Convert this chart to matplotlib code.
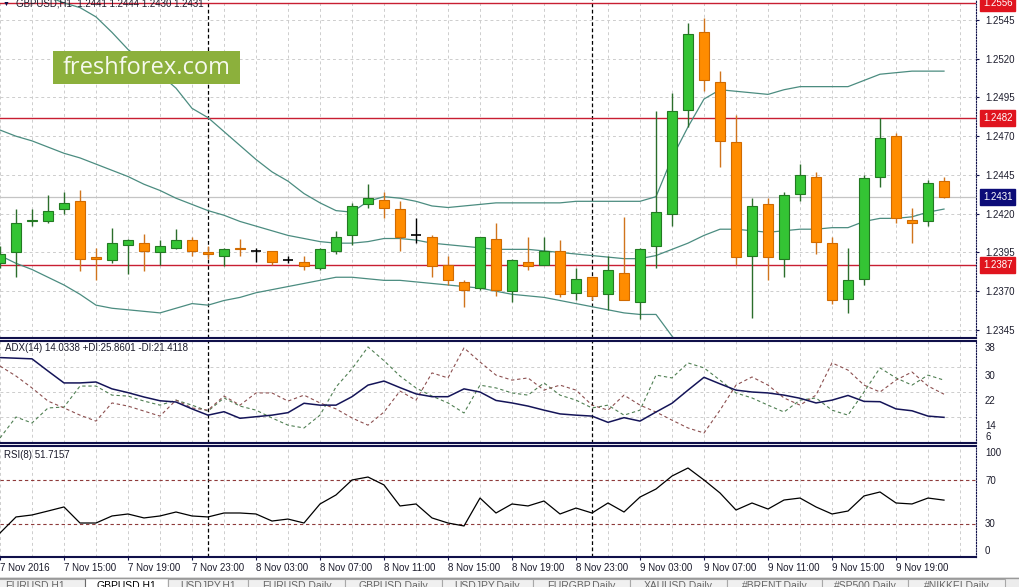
import numpy as np
import matplotlib.pyplot as plt
from matplotlib.patches import Rectangle

# GBPUSD H1, 7-9 Nov 2016: candles + Bollinger bands, ADX(14) and RSI(8) windows

plt.rcParams['font.family'] = ['Liberation Sans', 'DejaVu Sans']

opens = [1.2388, 1.2395, 1.2415, 1.2415, 1.2423, 1.2428, 1.2392, 1.2390, 1.2400, 1.2401,
         1.2395, 1.2398, 1.2403, 1.2395, 1.2393, 1.2398, 1.2396, 1.2396, 1.2390, 1.2389,
         1.2385, 1.2396, 1.2406, 1.2426, 1.2429, 1.2423, 1.2406, 1.2405, 1.2387, 1.2376,
         1.2372, 1.2404, 1.2370, 1.2389, 1.2387, 1.2396, 1.2369, 1.2379, 1.2368, 1.2382,
         1.2363, 1.2399, 1.2420, 1.2487, 1.2537, 1.2505, 1.2466, 1.2393, 1.2426, 1.2391,
         1.2433, 1.2444, 1.2401, 1.2365, 1.2378, 1.2444, 1.2470, 1.2416, 1.2415, 1.2441]
highs = [1.2399, 1.2423, 1.2423, 1.2432, 1.2434, 1.2435, 1.2398, 1.2411, 1.2404, 1.2407,
         1.2403, 1.2410, 1.2405, 1.2399, 1.2398, 1.2404, 1.2398, 1.2396, 1.2393, 1.2393,
         1.2398, 1.2409, 1.2427, 1.2439, 1.2434, 1.2428, 1.2417, 1.2406, 1.2393, 1.2377,
         1.2405, 1.2414, 1.2391, 1.2405, 1.2405, 1.2403, 1.2385, 1.2380, 1.2393, 1.2418,
         1.2398, 1.2486, 1.2498, 1.2543, 1.2546, 1.2512, 1.2484, 1.2430, 1.2430, 1.2434,
         1.2452, 1.2447, 1.2405, 1.2398, 1.2445, 1.2482, 1.2472, 1.2424, 1.2442, 1.2444]
lows = [1.2385, 1.2379, 1.2412, 1.2414, 1.2420, 1.2383, 1.2377, 1.2388, 1.2381, 1.2383,
        1.2387, 1.2397, 1.2393, 1.2391, 1.2386, 1.2393, 1.2389, 1.2387, 1.2388, 1.2384,
        1.2384, 1.2394, 1.2400, 1.2424, 1.2417, 1.2396, 1.2401, 1.2379, 1.2374, 1.2360,
        1.2371, 1.2367, 1.2363, 1.2384, 1.2387, 1.2366, 1.2364, 1.2364, 1.2358, 1.2364,
        1.2352, 1.2385, 1.2412, 1.2476, 1.2499, 1.2450, 1.2387, 1.2353, 1.2377, 1.2379,
        1.2428, 1.2394, 1.2362, 1.2356, 1.2374, 1.2437, 1.2414, 1.2401, 1.2412, 1.2430]
closes = [1.2394, 1.2414, 1.2416, 1.2422, 1.2427, 1.2391, 1.2391, 1.2401, 1.2403, 1.2396,
          1.2399, 1.2403, 1.2396, 1.2394, 1.2397, 1.2397, 1.2396, 1.2389, 1.2390, 1.2386,
          1.2397, 1.2405, 1.2425, 1.2430, 1.2424, 1.2405, 1.2406, 1.2386, 1.2377, 1.2371,
          1.2405, 1.2371, 1.2390, 1.2386, 1.2396, 1.2368, 1.2378, 1.2367, 1.2384, 1.2364,
          1.2397, 1.2421, 1.2486, 1.2536, 1.2506, 1.2467, 1.2392, 1.2425, 1.2392, 1.2432,
          1.2445, 1.2402, 1.2364, 1.2377, 1.2443, 1.2469, 1.2417, 1.2414, 1.2440, 1.2431]

bb_upper = [1.2584, 1.2574, 1.2566, 1.2560, 1.2556, 1.2553, 1.2547, 1.2537, 1.2526, 1.2518,
            1.2510, 1.2501, 1.2488, 1.2482, 1.2473, 1.2464, 1.2455, 1.2447, 1.2441, 1.2433,
            1.2427, 1.2422, 1.2421, 1.2428, 1.2431, 1.2430, 1.2428, 1.2425, 1.2424, 1.2425,
            1.2426, 1.2427, 1.2427, 1.2427, 1.2427, 1.2427, 1.2428, 1.2428, 1.2428, 1.2428,
            1.2428, 1.2431, 1.2456, 1.2476, 1.2494, 1.2500, 1.2499, 1.2498, 1.2497, 1.2500,
            1.2502, 1.2502, 1.2502, 1.2502, 1.2506, 1.2510, 1.2511, 1.2512, 1.2512, 1.2512]
bb_mid = [1.2474, 1.2470, 1.2467, 1.2463, 1.2459, 1.2456, 1.2452, 1.2448, 1.2444, 1.2439,
          1.2435, 1.2430, 1.2426, 1.2422, 1.2419, 1.2415, 1.2412, 1.2409, 1.2406, 1.2404,
          1.2402, 1.2401, 1.2401, 1.2402, 1.2404, 1.2404, 1.2403, 1.2401, 1.2400, 1.2399,
          1.2398, 1.2397, 1.2397, 1.2397, 1.2396, 1.2395, 1.2394, 1.2393, 1.2392, 1.2391,
          1.2391, 1.2393, 1.2397, 1.2401, 1.2406, 1.2410, 1.2410, 1.2409, 1.2408, 1.2409,
          1.2410, 1.2410, 1.2411, 1.2411, 1.2415, 1.2417, 1.2417, 1.2418, 1.2421, 1.2423]
bb_lower = [1.2393, 1.2388, 1.2384, 1.2379, 1.2374, 1.2368, 1.2361, 1.2359, 1.2358, 1.2357,
            1.2356, 1.2359, 1.2362, 1.2361, 1.2364, 1.2366, 1.2369, 1.2371, 1.2373, 1.2375,
            1.2377, 1.2379, 1.2379, 1.2378, 1.2377, 1.2377, 1.2376, 1.2375, 1.2374, 1.2373,
            1.2372, 1.2370, 1.2368, 1.2367, 1.2366, 1.2364, 1.2362, 1.2360, 1.2358, 1.2356,
            1.2355, 1.2355, 1.2341, 1.2329, 1.2318, 1.2319, 1.2320, 1.2319, 1.2319, 1.2318,
            1.2317, 1.2318, 1.2319, 1.2321, 1.2324, 1.2324, 1.2324, 1.2324, 1.2328, 1.2333]

adx = [33.1, 32.9, 32.7, 28.8, 25.0, 25.0, 25.3, 23.1, 21.9, 20.5,
       19.3, 18.9, 16.7, 14.7, 15.8, 13.7, 14.2, 14.7, 15.5, 18.5,
       17.9, 17.9, 20.6, 24.3, 25.6, 23.5, 21.5, 20.6, 20.6, 23.1,
       22.1, 19.4, 18.6, 17.6, 16.3, 15.1, 14.7, 14.4, 12.4, 13.9,
       12.8, 15.7, 18.5, 22.7, 26.8, 24.7, 22.7, 22.1, 21.8, 21.1,
       20.1, 18.6, 19.5, 21.0, 19.1, 19.0, 16.7, 16.1, 14.4, 14.0]
plus_di = [7.4, 14.1, 12.2, 17.0, 17.3, 24.0, 24.0, 21.1, 20.8, 19.2,
           17.9, 19.5, 17.9, 16.0, 20.2, 17.6, 16.3, 13.8, 11.5, 10.6,
           14.7, 23.7, 29.5, 36.5, 32.1, 27.2, 23.4, 20.8, 18.6, 15.4,
           24.3, 23.4, 21.8, 21.1, 25.0, 21.1, 19.5, 17.0, 17.9, 14.7,
           16.3, 27.5, 26.6, 31.4, 29.8, 25.9, 21.8, 20.2, 17.9, 15.7,
           19.5, 20.2, 16.3, 14.7, 22.1, 29.8, 26.6, 24.3, 27.5, 25.9]
minus_di = [30.4, 27.2, 23.4, 19.2, 17.0, 14.7, 12.8, 18.6, 17.6, 16.0,
            14.4, 19.5, 17.0, 16.3, 20.8, 17.9, 21.8, 21.8, 19.2, 21.1,
            18.6, 16.7, 13.8, 11.5, 15.7, 22.4, 19.5, 28.2, 26.6, 36.2,
            31.7, 27.5, 25.9, 26.6, 22.7, 24.3, 22.7, 17.9, 16.3, 21.1,
            17.9, 15.7, 13.1, 10.6, 9.0, 16.3, 24.3, 26.9, 24.3, 20.2,
            17.9, 21.1, 31.4, 29.1, 24.3, 22.1, 25.9, 28.5, 24.0, 21.4]
rsi = [21.8, 36.4, 38.2, 41.8, 45.5, 30.9, 30.9, 37.3, 39.1, 35.5,
       37.3, 40.9, 37.3, 36.4, 40.0, 40.0, 39.1, 32.7, 34.5, 30.9,
       48.2, 56.4, 70.0, 72.7, 65.5, 46.4, 48.2, 35.5, 30.9, 28.2,
       53.6, 40.0, 48.2, 46.4, 50.9, 39.1, 44.5, 40.0, 49.1, 40.9,
       54.5, 61.8, 73.6, 80.9, 70.0, 58.2, 42.7, 49.1, 43.6, 51.8,
       53.6, 45.5, 39.1, 41.8, 55.5, 59.1, 49.1, 48.2, 53.6, 51.7]

tick_bars = [0, 4, 8, 12, 16, 20, 24, 28, 32, 36, 40, 44, 48, 52, 56]
tick_labels = ['7 Nov 2016', '7 Nov 15:00', '7 Nov 19:00', '7 Nov 23:00', '8 Nov 03:00',
               '8 Nov 07:00', '8 Nov 11:00', '8 Nov 15:00', '8 Nov 19:00', '8 Nov 23:00',
               '9 Nov 03:00', '9 Nov 07:00', '9 Nov 11:00', '9 Nov 15:00', '9 Nov 19:00']
sep_bars = [13, 37]

price_ticks = [1.2345, 1.2370, 1.2395, 1.2420, 1.2445, 1.2470, 1.2495, 1.2520, 1.2545]
levels = [1.2556, 1.2482, 1.2387]
last_price = 1.2431
adx_ticks = [38, 30, 22, 14, 6]
adx_grid = [30, 22, 14]
rsi_ticks = [100, 70, 30, 0]
rsi_levels = [70, 30]

tabs = ['EURUSD,H1', 'GBPUSD,H1', 'USDJPY,H1', 'EURUSD,Daily', 'GBPUSD,Daily', 'USDJPY,Daily',
        'EURGBP,Daily', 'XAUUSD,Daily', '#BRENT,Daily', '#SP500,Daily', '#NIKKEI,Daily']
tab_edges = [-15, 85, 168, 248, 345, 442, 533, 630, 727, 822, 908, 1005]

W, H = 1019, 587
navy = '#10104a'
grid_col = '#cdcdcd'
txt_col = '#1c1c2c'

fig = plt.figure(figsize=(W / 100, H / 100), dpi=100)
fig.patch.set_facecolor('white')
main = fig.add_axes([0, 1 - 338 / H, 976 / W, 338 / H])
adx_ax = fig.add_axes([0, 1 - 443 / H, 976 / W, 102 / H])
rsi_ax = fig.add_axes([0, 1 - 557 / H, 976 / W, 111 / H])
tab_ax = fig.add_axes([0, 0, 1, 10 / H])

for ax in (main, adx_ax, rsi_ax):
    ax.set_xlim(0, 61)
    for b in range(0, 62, 2):
        ax.axvline(b, color=grid_col, ls=(0, (3, 3)), lw=0.7, zorder=0)
    for b in sep_bars:
        ax.axvline(b, color='black', ls=(0, (3, 2)), lw=0.9, zorder=1)
    ax.spines['left'].set_visible(False)
    ax.spines['right'].set_linestyle((0, (1, 1.5)))
    ax.spines['right'].set_color(navy)
    for s in ('top', 'bottom'):
        ax.spines[s].set_color(navy)
        ax.spines[s].set_linewidth(1.5)
    ax.tick_params(axis='x', length=0, labelbottom=False)
    ax.yaxis.tick_right()
main.spines['top'].set_visible(False)

# ---- price window ----
x = np.arange(len(opens))
o, h, l, c = (np.array(v) for v in (opens, highs, lows, closes))
up, dn, fl = c > o, c < o, c == o

main.set_ylim(1.23398, 1.25579)
for p in price_ticks:
    main.axhline(p, color=grid_col, ls=(0, (3, 3)), lw=0.7, zorder=0)
main.axhline(last_price, color='#c4c4c4', lw=0.9, zorder=1)
for lv in levels:
    main.axhline(lv, color='#c81e32', lw=1.0, zorder=2)

bb_col = '#4b8c80'
for band in (bb_upper, bb_mid, bb_lower):
    main.plot(x, band, color=bb_col, lw=0.9, zorder=2)

main.vlines(x[up], l[up], h[up], color='#2b6e2b', lw=1.0, zorder=3)
main.vlines(x[dn], l[dn], h[dn], color='#d0741c', lw=1.0, zorder=3)
main.vlines(x[fl], l[fl], h[fl], color='black', lw=1.0, zorder=3)
main.bar(x[up], (c - o)[up], bottom=o[up], width=0.62, color='#34c434',
         edgecolor='#227a22', lw=0.8, zorder=4)
main.bar(x[dn], (o - c)[dn], bottom=c[dn], width=0.62, color='#ff8c00',
         edgecolor='#d06a00', lw=0.8, zorder=4)
main.hlines(o[fl], x[fl] - 0.31, x[fl] + 0.31, color='black', lw=1.2, zorder=4)

main.set_yticks(price_ticks)
main.set_yticklabels([f'{p:.4f}' for p in price_ticks])
main.tick_params(axis='y', length=2.2, pad=4.3, labelsize=7, color=navy, labelcolor=txt_col)

for lv in levels:
    main.annotate(f'{lv:.4f}', xy=(1, lv), xycoords=('axes fraction', 'data'),
                  xytext=(5, 0), textcoords='offset points', va='center', ha='left',
                  fontsize=7, color='white', annotation_clip=False,
                  bbox=dict(boxstyle='square,pad=0.3', fc='#e0141e', ec='#e0141e'))
main.annotate(f'{last_price:.4f}', xy=(1, last_price), xycoords=('axes fraction', 'data'),
              xytext=(5, 0), textcoords='offset points', va='center', ha='left',
              fontsize=7, color='white', annotation_clip=False,
              bbox=dict(boxstyle='square,pad=0.3', fc='#0c0c78', ec='#0c0c78'))

fig.text(3 / W, 1 - 4 / H, '\u25bc', fontsize=5, color=navy, va='center')
fig.text(16 / W, 1 - 3.5 / H, 'GBPUSD,H1  1.2441 1.2444 1.2430 1.2431', fontsize=7,
         color=txt_col, va='center')

# watermark
fig.patches.append(Rectangle((53 / W, 1 - 84 / H), 187 / W, 33 / H,
                             transform=fig.transFigure, fc='#8cb03c', ec='none', zorder=5))
fig.text(147 / W, 1 - 68 / H, 'freshforex.com', family=['Open Sans', 'DejaVu Sans'],
         fontsize=17, color='#f6f9ee', ha='center', va='center', zorder=6)

# ---- ADX window ----
adx_ax.set_ylim(5.8, 38.4)
adx_ax.set_yticks([])
for g in adx_grid:
    adx_ax.axhline(g, color=grid_col, ls=(0, (3, 3)), lw=0.7, zorder=0)
adx_ax.plot(x, plus_di, color='#4f7f52', lw=0.8, ls=(0, (3, 2.5)), zorder=2)
adx_ax.plot(x, minus_di, color='#8c4f4f', lw=0.8, ls=(0, (3, 2.5)), zorder=2)
adx_ax.plot(x, adx, color='#141458', lw=1.1, zorder=3)
for v, dy in zip(adx_ticks, [-5.4, -8.4, -8.4, -8.4, 5.3]):
    adx_ax.annotate(str(v), xy=(1, v), xycoords=('axes fraction', 'data'),
                    xytext=(6.5, dy * 0.72), textcoords='offset points', va='center',
                    ha='left', fontsize=7, color=txt_col, annotation_clip=False)
fig.text(5 / W, 1 - 348 / H, 'ADX(14) 14.0338 +DI:25.8601 -DI:21.4118', fontsize=7,
         color=txt_col, va='center')

# ---- RSI window ----
rsi_ax.set_ylim(0, 100.9)
rsi_ax.set_yticks([])
for lv in rsi_levels:
    rsi_ax.axhline(lv, color='#8e3a3a', ls=(0, (3, 2.5)), lw=0.8, zorder=1)
rsi_ax.plot(x, rsi, color='black', lw=0.9, zorder=3)
for v, dy in zip(rsi_ticks, [-6, -0.7, 0, 6.3]):
    rsi_ax.annotate(str(v), xy=(1, v), xycoords=('axes fraction', 'data'),
                    xytext=(6.5, dy * 0.72), textcoords='offset points', va='center',
                    ha='left', fontsize=7, color=txt_col, annotation_clip=False)
fig.text(4 / W, 1 - 455 / H, 'RSI(8) 51.7157', fontsize=7, color=txt_col, va='center')

rsi_ax.set_xticks(tick_bars)
rsi_ax.set_xticklabels(tick_labels)
rsi_ax.tick_params(axis='x', length=2, pad=2.5, labelsize=7, labelbottom=True,
                   color=navy, labelcolor=txt_col)
for t in rsi_ax.get_xticklabels():
    t.set_ha('left')

# ---- symbol tabs ----
tab_ax.set_xlim(0, W)
tab_ax.set_ylim(10, 0)
tab_ax.set_facecolor('#ececec')
tab_ax.set_xticks([])
tab_ax.set_yticks([])
for s in tab_ax.spines.values():
    s.set_visible(False)
tab_ax.axhline(0.5, color='#9a9a9a', lw=1)
for i, name in enumerate(tabs):
    left, right = tab_edges[i], tab_edges[i + 1]
    active = name == 'GBPUSD,H1'
    tab_ax.add_patch(Rectangle((left, 0.5 if active else 1.5), right - left, 10,
                               fc='white' if active else '#f0f0f0',
                               ec='#6a6a6a' if active else '#a8a8a8', lw=0.8))
    tab_ax.text((left + right) / 2, 9, name, ha='center', va='center', fontsize=7.5,
                color='black' if active else '#666666', clip_on=True)

fig.savefig('out.png', dpi=100)
